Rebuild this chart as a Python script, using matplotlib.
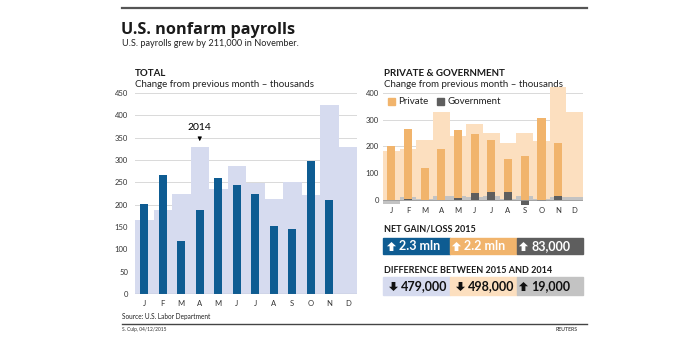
import matplotlib.pyplot as plt
from matplotlib.patches import Rectangle
from matplotlib.path import Path
import numpy as np

plt.rcParams["font.family"] = ["Lato", "DejaVu Sans"]

months = ["J", "F", "M", "A", "M", "J", "J", "A", "S", "O", "N", "D"]
total_2014 = [166, 188, 225, 330, 236, 286, 249, 213, 250, 221, 423, 329]
total_2015 = [201, 266, 119, 187, 260, 245, 223, 153, 145, 298, 211]
private_2014 = [184, 190, 225, 330, 240, 285, 250, 213, 250, 220, 423, 329]
private_2015 = [202, 267, 120, 190, 262, 246, 224, 152, 165, 305, 212]
gov_2014 = [-16, 12, 5, 15, 15, 12, 15, 5, 15, 5, 10, 10]
gov_2015 = [0, 5, 0, 0, 8, 27, 30, 30, -20, -5, 15]

net_labels = ["2.3 mln", "2.2 mln", "83,000"]
net_up = [True, True, True]
diff_labels = ["479,000", "498,000", "19,000"]
diff_up = [False, False, True]

BLUE = "#0e5c92"
LBLUE = "#d6dbef"
ORANGE = "#f1b46c"
LORANGE = "#fcdfbf"
DGRAY = "#5e5e5e"
LGRAY = "#c3c3c3"
GRID = "#d9d9d9"

W, H = 692, 338
fig = plt.figure(figsize=(W / 100, H / 100), dpi=100)


def px_axes(x0, x1, y_top, y_bot):
    return fig.add_axes([x0 / W, 1 - y_bot / H, (x1 - x0) / W, (y_bot - y_top) / H])


def ftext(x, y, s, **kw):
    fig.text(x / W, 1 - y / H, s, **kw)


# filled block arrow used in the summary boxes
_arrow_verts = [(0, 1), (1, 0.05), (0.42, 0.05), (0.42, -1), (-0.42, -1), (-0.42, 0.05), (-1, 0.05), (0, 1)]
UP_ARROW = Path(_arrow_verts, [Path.MOVETO] + [Path.LINETO] * 6 + [Path.CLOSEPOLY])
DOWN_ARROW = Path([(vx, -vy) for vx, vy in _arrow_verts], UP_ARROW.codes)

# header
fig.add_artist(plt.Line2D([122 / W, 587 / W], [1 - 8 / H, 1 - 8 / H], color="#555555", lw=1.6))
ftext(121, 34, "U.S. nonfarm payrolls", fontsize=11.7, fontweight="bold", color="#1a1a1a",
      family=["Open Sans", "DejaVu Sans"])
ftext(122, 45.5, "U.S. payrolls grew by 211,000 in November.", fontsize=6.6, color="#222222")

x = np.arange(12)
x15 = np.arange(len(total_2015))

# left: total
ax = px_axes(135, 357, 93, 294)
ax.set_axisbelow(True)
ax.bar(x, total_2014, width=1.0, color=LBLUE, zorder=1)
ax.bar(x15, total_2015, width=0.45, color=BLUE, zorder=2)
ax.set_xlim(-0.5, 11.5)
ax.set_ylim(0, 450)
ax.set_yticks(range(0, 451, 50))
ax.yaxis.grid(True, color=GRID, lw=0.7, zorder=0)
ax.set_xticks(x)
ax.set_xticklabels(months)
for s in ax.spines.values():
    s.set_visible(False)
ax.axhline(0, color="#777777", lw=0.8, zorder=3)
ax.tick_params(axis="both", length=0, labelsize=5.5, colors="#333333")
ax.tick_params(axis="y", pad=5)
ax.tick_params(axis="x", pad=4)
ax.annotate("2014", xy=(3, 336), xytext=(3, 362), ha="center", va="bottom", fontsize=7.5,
            arrowprops=dict(arrowstyle="-|>", color="black", lw=0.6, mutation_scale=6))
ftext(135, 76, "TOTAL", fontsize=7, fontweight="bold", color="#1a1a1a")
ftext(135, 87, "Change from previous month \u2013 thousands", fontsize=7, color="#222222")

# right: private & government
ax2 = px_axes(383, 583, 85, 206)
ax2.set_axisbelow(True)
ax2.bar(x, private_2014, width=1.0, color=LORANGE, zorder=1)
ax2.bar(x, gov_2014, width=1.0, color=LGRAY, zorder=1.5)
ax2.bar(x15, private_2015, width=0.5, color=ORANGE, zorder=2)
ax2.bar(x15, gov_2015, width=0.5, color=DGRAY, zorder=2.5)
ax2.set_xlim(-0.5, 11.5)
ax2.set_ylim(-23, 430)
ax2.set_yticks(range(0, 401, 100))
ax2.yaxis.grid(True, color=GRID, lw=0.7, zorder=0)
ax2.set_xticks(x)
ax2.set_xticklabels(months)
for s in ax2.spines.values():
    s.set_visible(False)
ax2.axhline(0, color="#999999", lw=0.6, zorder=3)
ax2.tick_params(axis="both", length=0, labelsize=5.5, colors="#333333")
ax2.tick_params(axis="y", pad=3)
ax2.tick_params(axis="x", pad=1)
ftext(384, 76, "PRIVATE & GOVERNMENT", fontsize=7, fontweight="bold", color="#1a1a1a")
ftext(384, 87, "Change from previous month \u2013 thousands", fontsize=7, color="#222222")
fig.add_artist(Rectangle((388 / W, 1 - 105 / H), 7 / W, 7 / H, color=ORANGE, transform=fig.transFigure))
ftext(398, 104, "Private", fontsize=7, color="#222222")
fig.add_artist(Rectangle((437 / W, 1 - 105 / H), 7 / W, 7 / H, color=DGRAY, transform=fig.transFigure))
ftext(447, 104, "Government", fontsize=7, color="#222222")


def box_row(y_top, y_bot, labels, ups, fills, fg, text_off):
    edges = [383, 450, 517, 583]
    yc = (y_top + y_bot) / 2
    for i, (lab, up) in enumerate(zip(labels, ups)):
        x0, x1 = edges[i], edges[i + 1]
        fig.add_artist(Rectangle((x0 / W, 1 - y_bot / H), (x1 - x0) / W, (y_bot - y_top) / H,
                                 color=fills[i], transform=fig.transFigure))
        fig.add_artist(plt.Line2D([(x0 + text_off[i] - 8.5) / W], [1 - yc / H], marker=UP_ARROW if up else DOWN_ARROW,
                                  markersize=6.5, color=fg[i], markeredgewidth=0, linestyle="none"))
        ftext(x0 + text_off[i], yc + 0.5, lab, ha="left", va="center",
              fontsize=9, fontweight="bold", color=fg[i])


ftext(384, 231, "NET GAIN/LOSS 2015", fontsize=6.5, fontweight="bold", color="#1a1a1a")
box_row(238, 254, net_labels, net_up, [BLUE, ORANGE, DGRAY], ["white"] * 3, [16, 14, 14])
ftext(384, 273, "DIFFERENCE BETWEEN 2015 AND 2014", fontsize=6.5, fontweight="bold", color="#1a1a1a")
box_row(277, 295, diff_labels, diff_up, [LBLUE, LORANGE, LGRAY], ["#111111"] * 3, [18, 18, 14])

# footer
ftext(122, 319, "Source: U.S. Labor Department", fontsize=4.7, color="#222222")
fig.add_artist(plt.Line2D([122 / W, 587 / W], [1 - 324 / H, 1 - 324 / H], color="#444444", lw=1.0))
ftext(122, 331, "S. Culp, 04/12/2015", fontsize=3.5, color="#333333")
ftext(578, 331, "REUTERS", fontsize=3.8, fontweight="bold", color="#555555", ha="right")

fig.savefig("out.png", dpi=100)
